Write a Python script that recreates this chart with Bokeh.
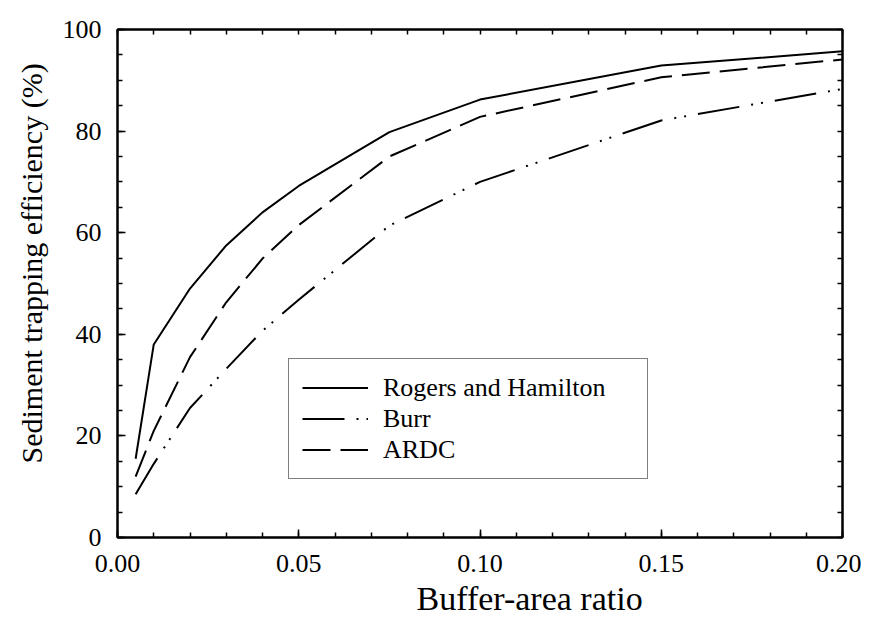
import math
from bokeh.plotting import figure
from bokeh.models import (Range1d, LinearAxis, SingleIntervalTicker, FixedTicker,
                          PrintfTickFormatter, Legend, LegendItem, Title)
from bokeh.embed import file_html
from bokeh.resources import INLINE

# ---- data ----
ratio = [0.005, 0.01, 0.02, 0.03, 0.04, 0.05, 0.075, 0.10, 0.15, 0.20]
rogers_hamilton = [15.5, 38.0, 49.0, 57.5, 64.0, 69.2, 79.8, 86.2, 92.9, 95.7]
burr = [8.5, 14.5, 25.5, 33.2, 40.7, 46.8, 61.4, 70.0, 82.1, 88.3]
ardc = [12.0, 21.0, 35.5, 46.3, 54.9, 61.5, 75.0, 82.8, 90.6, 94.1]
series_names = ["Rogers and Hamilton", "Burr", "ARDC"]
x_label = "Buffer-area ratio"
y_label = "Sediment trapping efficiency (%)"

FONT = "Liberation Serif"

p = figure(width=861, height=620, output_backend="svg", toolbar_location=None,
           x_range=Range1d(0, 0.2), y_range=Range1d(0, 100),
           x_axis_type=None, y_axis_type=None)
p.min_border_left = 116
p.min_border_right = 19
p.min_border_top = 29
p.min_border_bottom = 83
p.background_fill_color = "white"
p.border_fill_color = "white"
p.outline_line_color = "black"
p.outline_line_width = 2
p.xgrid.visible = False
p.ygrid.visible = False

def style_axis(ax, standoff=10):
    ax.axis_line_color = "black"
    ax.axis_line_width = 2
    ax.major_tick_in = 8
    ax.major_tick_out = 0
    ax.minor_tick_in = 5
    ax.minor_tick_out = 0
    ax.major_tick_line_width = 1.5
    ax.minor_tick_line_width = 1.5
    ax.major_tick_line_color = "black"
    ax.minor_tick_line_color = "black"
    ax.major_label_text_font = FONT
    ax.major_label_text_font_size = "26px"
    ax.major_label_text_color = "black"
    ax.major_label_standoff = standoff

# labelled axes (bottom, left)
xb = LinearAxis(ticker=SingleIntervalTicker(interval=0.05, num_minor_ticks=5),
                formatter=PrintfTickFormatter(format="%.2f"))
style_axis(xb, 17)
p.add_layout(xb, "below")
yl = LinearAxis(ticker=SingleIntervalTicker(interval=20, num_minor_ticks=4))
style_axis(yl, 16)
p.add_layout(yl, "left")

# unlabelled mirror axes (top, right): tick marks only
x_minor = [i * 0.01 for i in range(21)]
y_minor = [i * 5 for i in range(21)]
xa = LinearAxis(ticker=FixedTicker(ticks=[], minor_ticks=x_minor))
style_axis(xa, 0)
p.add_layout(xa, "above")
yr = LinearAxis(ticker=FixedTicker(ticks=[], minor_ticks=y_minor))
style_axis(yr, 0)
p.add_layout(yr, "right")

r1 = p.line(ratio, rogers_hamilton, line_color="black", line_width=2)
r2 = p.line(ratio, burr, line_color="black", line_width=2, line_dash="42 12 2 8 2 12")
r3 = p.line(ratio, ardc, line_color="black", line_width=2, line_dash="28 10")

legend = Legend(items=[LegendItem(label=series_names[0], renderers=[r1]),
                       LegendItem(label=series_names[1], renderers=[r2]),
                       LegendItem(label=series_names[2], renderers=[r3])],
                location=(171, 58))
legend.label_text_font = FONT
legend.label_text_font_size = "26px"
legend.label_text_color = "black"
legend.glyph_width = 66
legend.glyph_height = 31
legend.label_height = 31
legend.label_width = 251
legend.label_standoff = 15
legend.padding = 13
legend.spacing = 0
legend.margin = 0
legend.border_line_color = "black"
legend.border_line_width = 1.5
legend.background_fill_color = "white"
legend.background_fill_alpha = 1
p.add_layout(legend, "center")

xt = Title(text=x_label, text_font=FONT, text_font_size="34px", text_font_style="normal",
           text_color="black", align="left", offset=299, standoff=6)
p.add_layout(xt, "below")
yt = Title(text=y_label, text_font=FONT, text_font_size="30px", text_font_style="normal",
           text_color="black", align="left", offset=74, standoff=24)
p.add_layout(yt, "left")

open("out.html", "w").write(file_html(p, INLINE))
